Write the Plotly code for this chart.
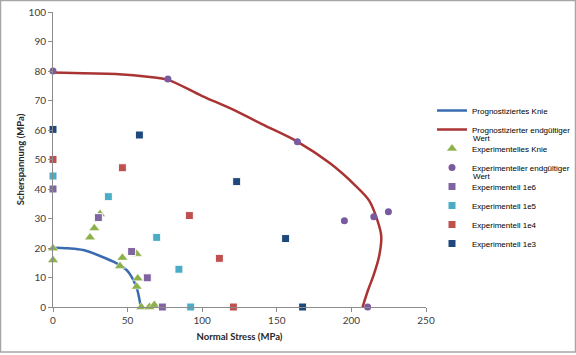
import plotly.graph_objects as go

# Predicted knee curve
knee_x = [0, 10, 20.3, 31.5, 42.7, 49.4, 53.8, 56.5, 58.8]
knee_y = [20.1, 19.9, 19.3, 17.3, 14.8, 12.5, 9.2, 5.8, 0]

# Predicted final value curve
final_x = [0, 20, 42, 65, 77, 100, 118.6, 140, 164, 185.7, 203, 212, 217, 220, 218.5, 215, 211, 207.5]
final_y = [79.5, 79.2, 79, 78, 77, 71.5, 67.4, 62, 56, 48.7, 41, 36, 30, 24, 17, 11, 5.5, 0]

# Experimental knee
exk_x = [0, 0, 24.8, 27.7, 31.5, 44.9, 46.5, 56.1, 56.8, 56.1, 59.2, 64.6, 67.9]
exk_y = [19.9, 15.9, 23.6, 26.7, 31.5, 13.9, 16.7, 18, 9.7, 6.9, 0, 0, 0.7]

# Experimental final value
exf_x = [0, 77, 163.8, 195.3, 215, 224.8, 210.9]
exf_y = [80, 77.3, 56, 29.2, 30.6, 32.3, 0]

e6_x = [0, 30.4, 52.7, 63.2, 73.3]
e6_y = [40, 30.3, 18.8, 9.9, 0]
e5_x = [0, 37.1, 69.5, 84.4, 92.3]
e5_y = [44.4, 37.4, 23.6, 12.8, 0]
e4_x = [0, 46.5, 91.4, 111.5, 120.9]
e4_y = [50, 47.2, 31, 16.5, 0]
e3_x = [0, 57.9, 123.1, 155.9, 167.3]
e3_y = [60.2, 58.3, 42.5, 23.2, 0]

FW, FH = 576, 355
L, R, T, B = 53, 426, 12, 307
W, H = R - L, B - T
def px_x(p):
    return (p - L) / W
def px_y(p):
    return (B - p) / H

fig = go.Figure()
fig.add_trace(go.Scatter(x=knee_x, y=knee_y, mode="lines", name="Prognostiziertes Knie",
                         line=dict(color="#3A6BB0", width=2.5, shape="spline"), cliponaxis=False))
fig.add_trace(go.Scatter(x=final_x, y=final_y, mode="lines", name="Prognostizierter endgültiger",
                         line=dict(color="#AA3333", width=2.5, shape="spline"), cliponaxis=False))
fig.add_trace(go.Scatter(x=exk_x, y=exk_y, mode="markers", name="Experimentelles Knie",
                         marker=dict(symbol="triangle-up", size=9.5, color="#8DB04A",
                                     line=dict(color="white", width=0.5)), cliponaxis=False))
fig.add_trace(go.Scatter(x=exf_x, y=exf_y, mode="markers", name="Experimenteller endgültiger",
                         marker=dict(symbol="circle", size=7, color="#7A5A9E"), cliponaxis=False))
sq = [("Experimentell 1e6", e6_x, e6_y, "#8064A2"),
      ("Experimentell 1e5", e5_x, e5_y, "#4BACC6"),
      ("Experimentell 1e4", e4_x, e4_y, "#C0504D"),
      ("Experimentell 1e3", e3_x, e3_y, "#1F497D")]
for name, xs, ys, c in sq:
    fig.add_trace(go.Scatter(x=xs, y=ys, mode="markers", name=name,
                             marker=dict(symbol="square", size=8, color=c,
                                         line=dict(color="white", width=1)), cliponaxis=False))

axis_common = dict(showgrid=False, zeroline=False, showline=True, linecolor="#8C8C8C", linewidth=1,
                   ticks="outside", ticklen=4, tickcolor="#8C8C8C",
                   tickfont=dict(family="Lato", size=10, color="#404040"))
fig.update_xaxes(range=[0, 250], dtick=50, tick0=0,
                 title=dict(text="<b>Normal Stress (MPa)</b>", font=dict(family="Lato", size=9.5, color="#262626"), standoff=8),
                 **axis_common)
fig.update_yaxes(range=[0, 100], dtick=10, tick0=0,
                 title=dict(text="<b>Scherspannung (MPa)</b>", font=dict(family="Lato", size=9.5, color="#262626"), standoff=2),
                 **axis_common)

legfont = dict(family="Liberation Sans", size=8, color="#000000")
fig.update_layout(
    width=FW, height=FH,
    margin=dict(l=L, r=FW - R, t=T, b=FH - B, autoexpand=False),
    plot_bgcolor="white", paper_bgcolor="white",
    showlegend=True,
    legend=dict(x=px_x(432), y=px_y(96), xanchor="left", yanchor="top",
                font=legfont, bgcolor="rgba(0,0,0,0)", itemwidth=30, tracegroupgap=0),
    annotations=[
        dict(text="Wert", xref="paper", yref="paper", x=px_x(470.5), y=px_y(138),
             xanchor="left", yanchor="middle", showarrow=False, font=legfont),
        dict(text="Wert", xref="paper", yref="paper", x=px_x(470.5), y=px_y(176.5),
             xanchor="left", yanchor="middle", showarrow=False, font=legfont),
    ],
    shapes=[dict(type="rect", xref="paper", yref="paper",
                 x0=px_x(0.5), x1=px_x(575.5), y0=px_y(352), y1=px_y(0.5),
                 line=dict(color="#A6A6A6", width=1.5), layer="below")],
)

fig.write_html("out.html")
